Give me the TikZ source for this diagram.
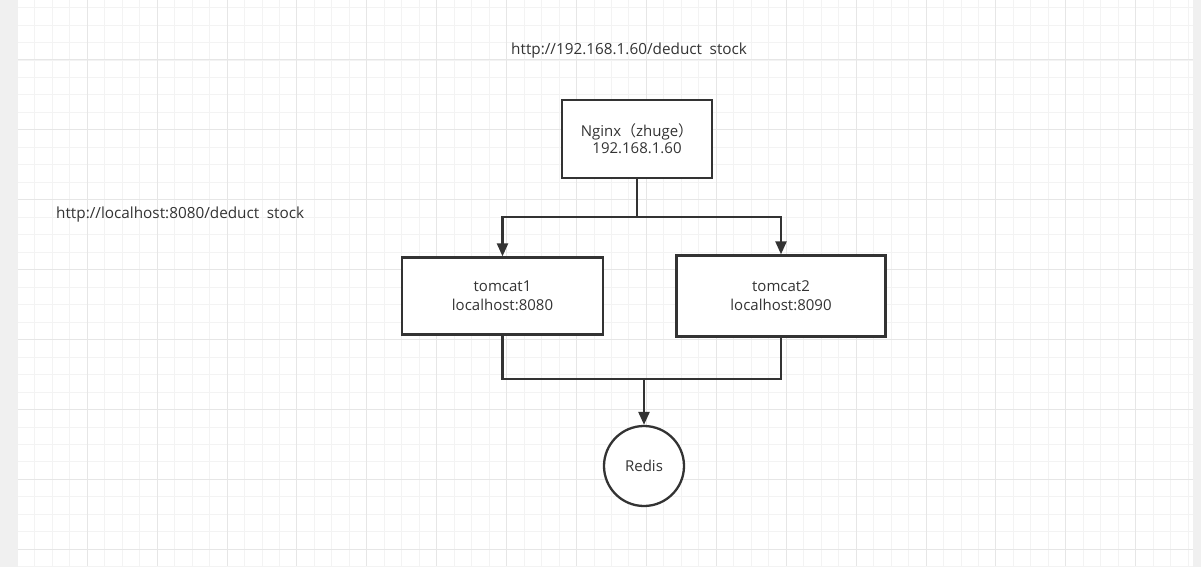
\documentclass[tikz,border=0pt]{standalone}
\usepackage{fontspec}
\setmainfont{Open Sans}
\newfontfamily\cjk{Noto Sans CJK SC}
\usetikzlibrary{arrows.meta,positioning}
\definecolor{ink}{HTML}{333333}
\definecolor{gridminor}{HTML}{F3F3F3}
\definecolor{gridmajor}{HTML}{E6E6E6}
\definecolor{frame}{HTML}{F0F0F0}
\tikzset{
  lb/server/.style={draw=ink, line width=2.3pt, fill=white, align=center, text=ink, font=\fontsize{15}{19}\selectfont},
  lb/store/.style={draw=ink, circle, line width=2.3pt, fill=white, minimum size=80pt, inner sep=0pt, text=ink, font=\fontsize{15}{18}\selectfont},
  lb/link/.style={draw=ink, line width=2.4pt},
  lb/arrow/.style={lb/link, -{Triangle[length=13pt,width=11pt]}},
  lb/url/.style={text=ink, inner sep=0pt, font=\fontsize{15.3}{18}\selectfont}
}

\begin{document}
\begin{tikzpicture}[x=1pt, y=-1pt]
  \useasboundingbox (0,0) rectangle (1201,567);
  % canvas and grid
  \fill[frame] (0,0) rectangle (1201,567);
  \fill[white] (18,0) rectangle (1193,566);
  \begin{scope}
    \clip (18,0) rectangle (1193,566);
    \foreach \i in {0,...,67}
      \draw[gridminor, line width=0.9pt] ({17.3+17.475*\i},0) -- ++(0,566);
    \foreach \j in {-4,...,29}
      \draw[gridminor, line width=0.9pt] (18,{60+17.475*\j}) -- ++(1175,0);
    \foreach \i in {1,...,16}
      \draw[gridmajor, line width=1pt] ({17.3+69.9*\i},0) -- ++(0,566);
    \foreach \j in {0,...,7}
      \draw[gridmajor, line width=1pt] (18,{60+69.9*\j}) -- ++(1175,0);
  \end{scope}

  % request urls
  \node[lb/url, anchor=west] (urlnginx) at (511,51) {http://192.168.1.60/deduct\hspace{0.5em}stock};
  \node[lb/url, anchor=west] (urllocal) at (56,215) {http://localhost:8080/deduct\hspace{0.5em}stock};

  % servers
  \node[lb/server, minimum width=150pt, minimum height=78pt, font=\fontsize{15}{17}\selectfont] (nginx) at (637,139)
    {Nginx{\cjk（}zhuge{\cjk）}\\ 192.168.1.60};
  \node[lb/server, minimum width=201pt, minimum height=77pt] (tomcat1) at (502.5,296)
    {tomcat1\\localhost:8080};
  \node[lb/server, minimum width=209pt, minimum height=81pt] (tomcat2) at (781,296)
    {tomcat2\\localhost:8090};
  \node[lb/store] (redis) at (644,466) {Redis};

  % nginx to the two tomcats
  \coordinate (split) at (nginx.south |- 0,217);
  \draw[lb/link] (nginx.south) -- (split);
  \draw[lb/arrow] (split) -| (tomcat1.north);
  \draw[lb/arrow] (split) -| (tomcat2.north);

  % both tomcats share redis
  \coordinate (merge) at (redis.north |- 0,379);
  \draw[lb/link] (tomcat1.south) |- (merge);
  \draw[lb/link] (tomcat2.south) |- (merge);
  \draw[lb/arrow] (merge) -- (redis.north);
\end{tikzpicture}
\end{document}
